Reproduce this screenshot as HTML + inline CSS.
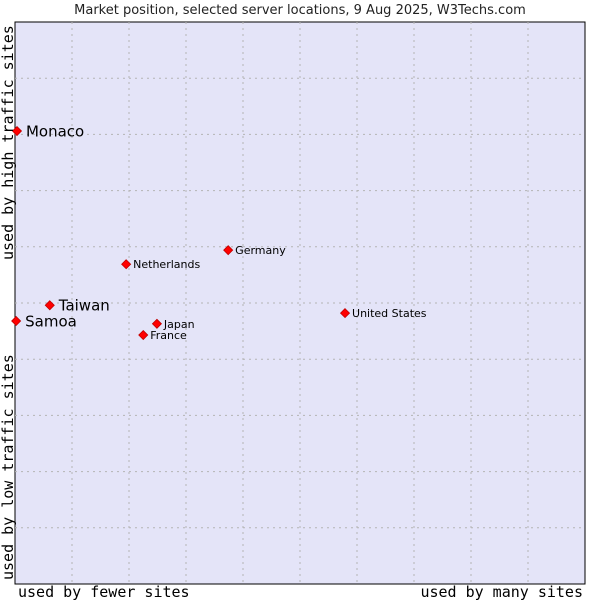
<!DOCTYPE html>
<html><head><meta charset="utf-8"><style>
body{margin:0;background:#fff;width:600px;height:600px;overflow:hidden}
text{font-family:"DejaVu Sans",sans-serif}
.mono{font-family:"DejaVu Sans Mono",monospace;font-size:15px;fill:#000}
</style></head><body>
<svg id="chart" width="600" height="600">
<text x="300" y="14" text-anchor="middle" font-size="13" fill="#222">Market position, selected server locations, 9 Aug 2025, W3Techs.com</text>
<rect x="15" y="22" width="570" height="562" fill="#e4e4f8" stroke="#000" stroke-width="1"/>
<g id="grid"></g>
<g id="marks"></g>
<text class="mono" x="18" y="597">used by fewer sites</text>
<text class="mono" x="583" y="597" text-anchor="end">used by many sites</text>
<text class="mono" transform="translate(13,580) rotate(-90)">used by low traffic sites</text>
<text class="mono" transform="translate(13,260) rotate(-90)">used by high traffic sites</text>
</svg>
<script>
const countries=["Monaco","Samoa","Taiwan","Netherlands","Germany","Japan","France","United States"];
const xValues=[0.35,0.2,6.1,19.5,37.4,24.9,22.5,57.9];
const yValues=[80.6,46.8,49.6,56.9,59.4,46.3,44.3,48.2];
const bigLabel=[true,true,true,false,false,false,false,false];
const L=15,T=22,W=570,H=562;
const sx=v=>L+v/100*W, sy=v=>T+H-v/100*H;
const NS="http://www.w3.org/2000/svg";
const grid=document.getElementById('grid'), marks=document.getElementById('marks');
for(let i=1;i<10;i++){
  const x=L+i*W/10, y=T+i*H/10;
  const v=document.createElementNS(NS,'line');
  
  
  v.setAttribute('x1',x);v.setAttribute('x2',x);v.setAttribute('y1',T);v.setAttribute('y2',T+H);
  v.setAttribute('stroke','#b4b4b4');v.setAttribute('stroke-dasharray','2,4');
  grid.appendChild(v);
  const h=document.createElementNS(NS,'line');
  
  
  h.setAttribute('y1',y);h.setAttribute('y2',y);h.setAttribute('x1',L);h.setAttribute('x2',L+W);
  h.setAttribute('stroke','#b4b4b4');h.setAttribute('stroke-dasharray','2,4');
  grid.appendChild(h);
}
countries.forEach((c,i)=>{
  const x=sx(xValues[i]), y=sy(yValues[i]);
  const p=document.createElementNS(NS,'polygon');
  
  
  p.setAttribute('points',`${x},${y-4.5} ${x+4.5},${y} ${x},${y+4.5} ${x-4.5},${y}`);
  p.setAttribute('fill','#ff0000');p.setAttribute('stroke','#c00000');p.setAttribute('stroke-width','0.8');
  marks.appendChild(p);
  const t=document.createElementNS(NS,'text');
  
  
  const big=bigLabel[i];
  t.setAttribute('x',x+(big?9:7));t.setAttribute('y',y+(big?5.5:4));
  t.setAttribute('font-size',big?15:11);t.setAttribute('fill','#000');
  t.textContent=c;
  marks.appendChild(t);
});
</script>
</body></html>
